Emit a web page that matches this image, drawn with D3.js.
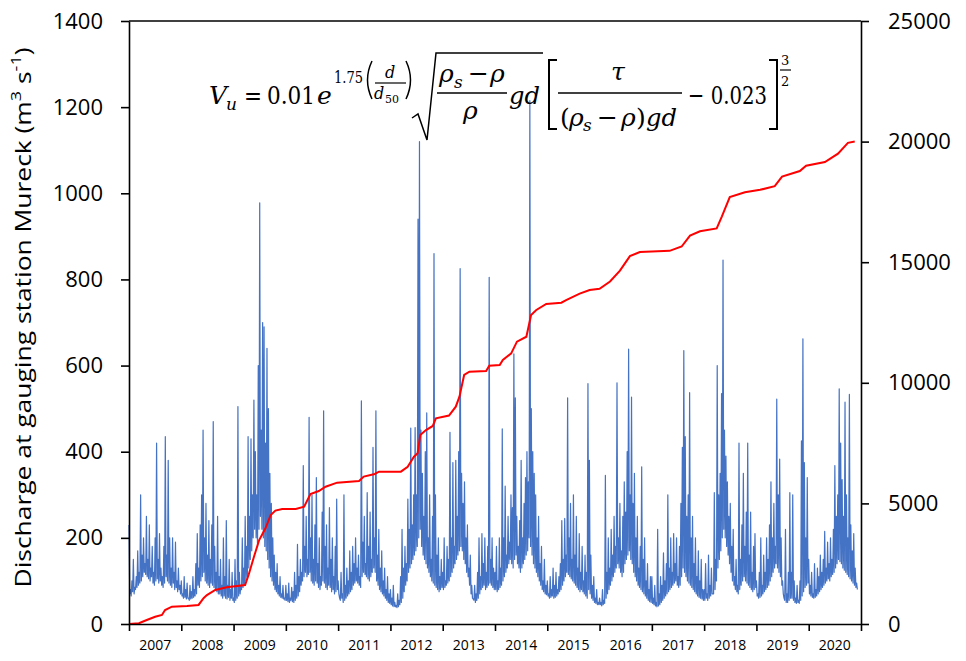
<!DOCTYPE html>
<html>
<head>
<meta charset="utf-8">
<script src="https://cdn.jsdelivr.net/npm/d3@7"></script>
<style>
  body { margin: 0; background: #fff; }
</style>
</head>
<body>
<div id="chart"></div>
<script>
const overallWidth = 966
const overallHeight = 661
const margin = { left: 129, top: 21, right: 105, bottom: 37 }
const width = overallWidth - margin.left - margin.right
const height = overallHeight - margin.top - margin.bottom

const blue = '#4472C4'
const red = '#FF0000'
const tickFont = 'Open Sans, sans-serif'
const mathFont = 'DejaVu Serif, serif'

// x axis categories (one label per year, centred between yearly ticks)
const yearLabels = ['2007', '2008', '2009', '2010', '2011', '2012', '2013',
  '2014', '2015', '2016', '2017', '2018', '2019', '2020']
const leftTicks = [0, 200, 400, 600, 800, 1000, 1200, 1400]
const rightTicks = [0, 5000, 10000, 15000, 20000, 25000]

// discharge at Mureck, 36 samples per year (upper reading)
const q2007 = [230, 80, 100, 150, 85, 110, 170, 120, 300, 160, 200, 140, 250, 150, 230, 130, 180, 120, 200, 420, 150, 210, 130, 110, 180, 435, 160, 380, 200, 130, 200, 120, 190, 100, 130, 90]
const q2008 = [100, 70, 110, 80, 95, 60, 90, 75, 110, 80, 140, 210, 130, 230, 300, 450, 200, 280, 160, 240, 150, 230, 470, 180, 120, 250, 110, 150, 90, 200, 110, 240, 90, 150, 80, 120]
const q2009 = [60, 150, 100, 505, 120, 90, 200, 130, 250, 180, 435, 250, 430, 300, 520, 400, 300, 600, 978, 450, 700, 690, 420, 640, 500, 350, 280, 200, 160, 120, 140, 90, 110, 70, 90, 60]
const q2010 = [90, 70, 95, 60, 85, 75, 120, 90, 185, 110, 150, 120, 368, 180, 250, 150, 480, 200, 300, 150, 230, 340, 140, 200, 110, 260, 495, 180, 230, 130, 270, 150, 200, 110, 180, 290]
const q2011 = [100, 60, 120, 70, 300, 90, 130, 100, 170, 120, 180, 140, 200, 130, 160, 110, 518, 190, 250, 140, 305, 180, 260, 150, 410, 200, 495, 160, 220, 130, 170, 100, 130, 80, 110, 70]
const q2012 = [80, 60, 90, 50, 43, 70, 55, 110, 220, 130, 180, 140, 290, 220, 455, 230, 300, 456, 300, 940, 1120, 450, 350, 250, 400, 490, 200, 300, 150, 250, 860, 300, 160, 200, 110, 150]
const q2013 = [120, 200, 100, 180, 150, 445, 200, 375, 180, 380, 250, 400, 825, 350, 280, 330, 200, 230, 130, 160, 90, 58, 90, 70, 120, 200, 110, 210, 140, 200, 120, 180, 805, 150, 200, 130]
const q2014 = [120, 180, 100, 200, 130, 453, 200, 320, 160, 250, 190, 300, 270, 627, 525, 250, 180, 240, 380, 200, 280, 340, 400, 330, 1215, 500, 400, 350, 300, 200, 250, 140, 180, 100, 150, 90]
const q2015 = [100, 70, 110, 80, 130, 90, 120, 80, 110, 140, 240, 150, 245, 160, 525, 200, 280, 150, 300, 160, 250, 130, 210, 120, 180, 100, 160, 120, 558, 380, 160, 90, 110, 60, 80, 50]
const q2016 = [60, 50, 80, 55, 345, 120, 200, 130, 220, 160, 250, 180, 560, 200, 280, 170, 250, 330, 260, 400, 638, 300, 527, 280, 350, 200, 250, 130, 180, 365, 150, 200, 100, 140, 80, 110]
const q2017 = [110, 60, 90, 50, 220, 70, 110, 90, 165, 100, 140, 300, 130, 200, 120, 210, 140, 200, 110, 180, 280, 410, 635, 435, 250, 300, 537, 200, 250, 140, 200, 110, 170, 100, 150, 80]
const q2018 = [80, 140, 70, 160, 90, 130, 70, 305, 150, 600, 300, 350, 535, 845, 450, 390, 330, 250, 280, 180, 220, 110, 150, 90, 420, 150, 230, 350, 180, 260, 420, 160, 260, 120, 180, 210]
const q2019 = [100, 70, 120, 200, 90, 160, 120, 200, 150, 230, 330, 200, 280, 180, 522, 300, 383, 200, 100, 60, 220, 70, 120, 305, 120, 300, 100, 60, 90, 55, 100, 425, 662, 375, 200, 340]
const q2020 = [150, 90, 120, 70, 140, 80, 130, 110, 160, 120, 150, 215, 130, 190, 140, 200, 150, 220, 368, 250, 300, 546, 420, 335, 250, 515, 300, 200, 533, 230, 170, 210, 130, 95]

// lower edge of the daily band at the same sample times
const lo2007 = [70, 65, 75, 70, 80, 85, 90, 95, 100, 110, 120, 115, 110, 105, 100, 110, 95, 90, 100, 105, 95, 100, 90, 85, 95, 110, 100, 95, 90, 85, 95, 80, 85, 75, 80, 70]
const lo2008 = [65, 60, 62, 58, 60, 55, 58, 60, 62, 65, 70, 90, 85, 100, 110, 120, 100, 95, 90, 85, 95, 90, 85, 80, 75, 70, 70, 65, 60, 65, 60, 58, 62, 55, 60, 55]
const lo2009 = [50, 55, 60, 65, 70, 80, 85, 90, 100, 110, 130, 150, 170, 200, 220, 200, 180, 220, 250, 220, 200, 180, 170, 150, 130, 110, 100, 90, 80, 75, 70, 65, 62, 60, 58, 55]
const lo2010 = [55, 52, 50, 55, 52, 50, 55, 60, 65, 75, 90, 100, 110, 120, 110, 115, 120, 100, 95, 90, 100, 95, 85, 80, 90, 100, 95, 85, 80, 90, 85, 75, 80, 70, 75, 80]
const lo2011 = [70, 55, 60, 50, 55, 60, 65, 70, 75, 80, 90, 95, 100, 95, 90, 85, 110, 120, 115, 110, 105, 100, 110, 120, 130, 120, 100, 90, 80, 75, 70, 65, 60, 55, 50, 48]
const lo2012 = [45, 42, 40, 40, 38, 40, 45, 50, 60, 75, 90, 100, 120, 130, 140, 150, 160, 170, 180, 200, 220, 180, 160, 150, 140, 130, 120, 110, 100, 95, 90, 85, 80, 75, 80, 85]
const lo2013 = [80, 85, 90, 95, 100, 110, 120, 130, 140, 150, 160, 170, 180, 170, 150, 140, 120, 110, 90, 70, 60, 55, 50, 55, 60, 70, 80, 85, 90, 80, 85, 90, 95, 90, 85, 80]
const lo2014 = [80, 75, 80, 85, 90, 100, 110, 120, 130, 140, 150, 140, 130, 150, 160, 140, 130, 120, 130, 140, 150, 160, 170, 200, 180, 160, 140, 130, 120, 110, 100, 90, 80, 75, 70, 68]
const lo2015 = [65, 60, 62, 65, 60, 62, 65, 70, 75, 80, 90, 100, 110, 120, 115, 110, 105, 100, 95, 90, 85, 80, 75, 80, 75, 70, 65, 60, 80, 70, 60, 55, 50, 48, 45, 45]
const lo2016 = [45, 42, 45, 48, 60, 70, 80, 90, 100, 110, 120, 130, 140, 130, 120, 110, 120, 140, 150, 160, 170, 150, 140, 120, 110, 100, 90, 85, 80, 75, 70, 65, 60, 55, 52, 50]
const lo2017 = [48, 45, 42, 40, 42, 45, 50, 55, 60, 65, 70, 75, 80, 85, 90, 95, 100, 90, 85, 90, 110, 130, 120, 110, 100, 95, 90, 85, 80, 75, 70, 65, 62, 60, 58, 55]
const lo2018 = [55, 60, 55, 60, 65, 70, 75, 80, 100, 130, 150, 170, 200, 220, 200, 180, 160, 140, 120, 100, 90, 80, 75, 70, 80, 90, 100, 110, 100, 95, 90, 85, 80, 75, 80, 85]
const lo2019 = [65, 60, 62, 65, 70, 75, 80, 85, 90, 100, 110, 120, 130, 140, 130, 120, 110, 90, 70, 55, 50, 50, 55, 60, 60, 55, 50, 48, 50, 48, 55, 65, 75, 85, 90, 95]
const lo2020 = [70, 65, 62, 60, 62, 65, 70, 75, 80, 85, 90, 95, 100, 105, 100, 110, 115, 120, 130, 140, 150, 145, 140, 130, 125, 120, 115, 110, 105, 100, 95, 90, 85, 80]
const samplesPerYear = 36

// cumulative curve (right axis), decimal year and value
const cumTime = [2007.00, 2007.19, 2007.34, 2007.50, 2007.63, 2007.69, 2007.82, 2008.11, 2008.33, 2008.43, 2008.49, 2008.65, 2008.87, 2009.22, 2009.29, 2009.39, 2009.49, 2009.61, 2009.71, 2009.80, 2009.93, 2010.19, 2010.35, 2010.47, 2010.63, 2010.76, 2010.98, 2011.40, 2011.49, 2011.70, 2011.78, 2012.20, 2012.33, 2012.45, 2012.52, 2012.57, 2012.68, 2012.81, 2012.87, 2013.12, 2013.25, 2013.32, 2013.41, 2013.51, 2013.83, 2013.89, 2014.09, 2014.15, 2014.31, 2014.42, 2014.60, 2014.69, 2014.79, 2014.98, 2015.27, 2015.36, 2015.62, 2015.81, 2016.00, 2016.20, 2016.39, 2016.58, 2016.77, 2017.34, 2017.57, 2017.73, 2017.92, 2018.24, 2018.34, 2018.49, 2018.78, 2019.07, 2019.35, 2019.49, 2019.83, 2019.95, 2020.31, 2020.56, 2020.75, 2020.88]
const cumValue = [0, 30, 166, 300, 373, 580, 720, 745, 790, 1080, 1200, 1410, 1520, 1617, 2050, 2790, 3480, 3970, 4520, 4700, 4770, 4770, 4865, 5390, 5515, 5690, 5860, 5930, 6110, 6220, 6315, 6315, 6520, 6935, 7075, 7835, 8040, 8210, 8530, 8640, 9010, 9425, 10325, 10460, 10490, 10710, 10740, 10945, 11220, 11705, 11910, 12810, 13020, 13270, 13320, 13430, 13700, 13850, 13900, 14200, 14650, 15250, 15420, 15470, 15650, 16100, 16280, 16400, 16900, 17700, 17900, 18000, 18150, 18550, 18780, 19000, 19150, 19500, 19950, 20000]

const upper = [q2007, q2008, q2009, q2010, q2011, q2012, q2013, q2014, q2015, q2016, q2017, q2018, q2019, q2020]
const lower = [lo2007, lo2008, lo2009, lo2010, lo2011, lo2012, lo2013, lo2014, lo2015, lo2016, lo2017, lo2018, lo2019, lo2020]
// each sample: the reading, then the band floor half a step later
const discharge = upper.flatMap((vals, k) => vals.flatMap((v, i) => {
  const t = +yearLabels[k] + i / samplesPerYear
  return [{ t, v }, { t: t + 0.5 / samplesPerYear, v: Math.min(v, lower[k][i]) }]
}))
const cumulative = cumTime.map((t, i) => ({ t, v: cumValue[i] }))

const svg = d3.select('#chart').append('svg')
  .attr('width', overallWidth)
  .attr('height', overallHeight)
  .attr('viewBox', [-margin.left, -margin.top, overallWidth, overallHeight])
  .style('font-family', tickFont)

const x = d3.scaleLinear().domain([2007, 2021]).range([0, width])
const y1 = d3.scaleLinear().domain([0, 1400]).range([height, 0])
const y2 = d3.scaleLinear().domain([0, 25000]).range([height, 0])

// lines
svg.append('path')
  .datum(discharge)
  .attr('fill', 'none')
  .attr('stroke', blue)
  .attr('stroke-width', 1.2)
  .attr('stroke-linejoin', 'round')
  .attr('d', d3.line().x(d => x(d.t)).y(d => y1(d.v)))

svg.append('path')
  .datum(cumulative)
  .attr('fill', 'none')
  .attr('stroke', red)
  .attr('stroke-width', 2)
  .attr('d', d3.line().x(d => x(d.t)).y(d => y2(d.v)))

// axes
const styleAxis = g => g
  .call(g => g.select('.domain').attr('stroke', '#000').attr('stroke-width', 1.6))
  .call(g => g.selectAll('.tick line').attr('stroke', '#000').attr('stroke-width', 1.6))
  .call(g => g.selectAll('.tick text').attr('fill', '#000').style('font-family', tickFont))

svg.append('g')
  .attr('transform', `translate(0,${height})`)
  .call(d3.axisBottom(x).tickValues(d3.range(2007, 2022)).tickFormat('').tickSizeInner(7).tickSizeOuter(0))
  .call(styleAxis)

svg.append('g')
  .selectAll('text')
  .data(yearLabels)
  .join('text')
  .attr('x', d => x(+d + 0.5))
  .attr('y', height + 26)
  .attr('text-anchor', 'middle')
  .style('font-size', '14px')
  .text(d => d)

svg.append('g')
  .call(d3.axisLeft(y1).tickValues(leftTicks).tickFormat(d3.format('d'))
    .tickSizeInner(8).tickSizeOuter(0).tickPadding(18))
  .call(styleAxis)
  .call(g => g.selectAll('.tick text').style('font-size', '22px'))

svg.append('g')
  .attr('transform', `translate(${width},0)`)
  .call(d3.axisRight(y2).tickValues(rightTicks).tickFormat(d3.format('d'))
    .tickSizeInner(8).tickSizeOuter(0).tickPadding(19))
  .call(styleAxis)
  .call(g => g.selectAll('.tick text').style('font-size', '22px'))

// top border of the plot area
svg.append('line')
  .attr('x1', 0).attr('x2', width)
  .attr('y1', 0).attr('y2', 0)
  .attr('stroke', '#000').attr('stroke-width', 1.6)

// y title
const title = svg.append('text')
  .attr('transform', `translate(${-margin.left + 31},${height / 2 - 5}) rotate(-90)`)
  .attr('text-anchor', 'middle')
  .attr('textLength', 540)
  .attr('lengthAdjust', 'spacingAndGlyphs')
  .style('font-size', '22px')
title.append('tspan').text('Discharge at gauging station Mureck (m')
title.append('tspan').text('3').attr('baseline-shift', 'super').style('font-size', '15px')
title.append('tspan').text(' s')
title.append('tspan').text('-1').attr('baseline-shift', 'super').style('font-size', '15px')
title.append('tspan').text(')')

// formula, drawn in page coordinates
const f = svg.append('g')
  .attr('transform', `translate(${-margin.left},${-margin.top})`)
  .style('font-family', mathFont)
  .attr('fill', '#000')

const tx = (px, py, str, size, italic, len) => {
  const t = f.append('text').attr('x', px).attr('y', py).text(str)
    .style('font-size', size + 'px')
    .style('font-style', italic ? 'italic' : 'normal')
  if (len) t.attr('textLength', len).attr('lengthAdjust', 'spacingAndGlyphs')
  return t
}
const stroke = (d, w) => f.append('path').attr('d', d).attr('fill', 'none')
  .attr('stroke', '#000').attr('stroke-width', w || 1.4)

tx(209, 104, 'V', 25, true)
tx(226, 110, 'u', 17, true)
tx(244, 104, '=', 25, false, 18)
tx(267, 104, '0.01', 25, false, 48)
tx(317, 104, 'e', 25, true)
tx(334, 83, '1.75', 16, false, 29)
stroke('M372 61 Q363 80 372 99', 1.5)
tx(385, 78, 'd', 16, true)
stroke('M375 83 H406', 1.2)
tx(374, 99, 'd', 16, true)
tx(385, 103, '50', 11, false)
stroke('M406 61 Q415 80 406 99', 1.5)

stroke('M412 118 L418 114 L427 140 L436 53 H543', 1.5)
tx(439, 82, 'ρ', 25, true)
tx(454, 88, 's', 17, true)
tx(468, 82, '−', 25, false)
tx(490, 82, 'ρ', 25, true)
stroke('M437 93 H507', 1.5)
tx(463, 119, 'ρ', 25, true)
tx(509, 104, 'gd', 25, true, 31)

stroke('M557 60 H549 V129 H557', 2)
tx(611, 80, 'τ', 25, true)
stroke('M558 93 H682', 1.5)
tx(560, 126, '(', 25, false)
tx(569, 126, 'ρ', 25, true)
tx(583, 131, 's', 17, true)
tx(597, 126, '−', 25, false)
tx(621, 126, 'ρ', 25, true)
tx(636, 126, ')', 25, false)
tx(646, 126, 'gd', 25, true, 31)
tx(688, 104, '− 0.023', 25, false, 79)
stroke('M769 60 H777 V129 H769', 2)
tx(781, 65, '3', 13, false)
stroke('M780 70 H791', 1.2)
tx(781, 86, '2', 13, false)
</script>
</body>
</html>
